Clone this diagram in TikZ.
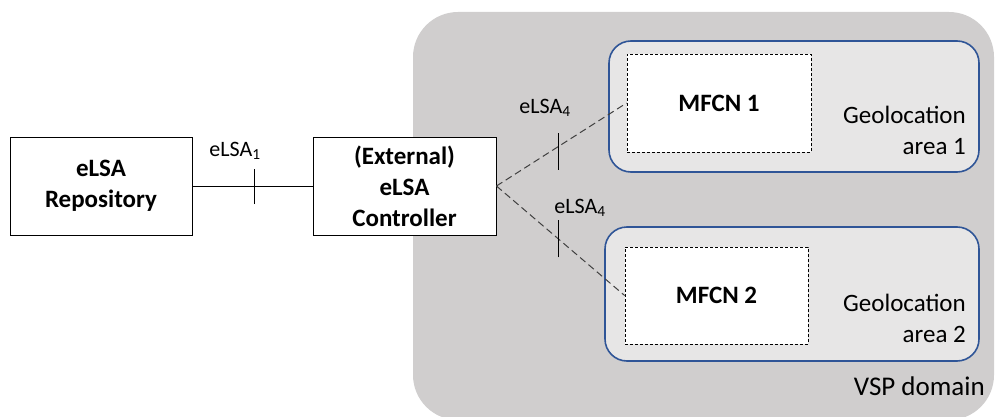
\documentclass[tikz,border=0pt]{standalone}
\usepackage{fontspec}
\setmainfont{Carlito}
\definecolor{vspgrey}{RGB}{208,206,206}
\definecolor{areagrey}{RGB}{231,230,230}
\definecolor{areablue}{RGB}{47,85,151}
\definecolor{linegrey}{RGB}{64,64,64}
\tikzset{
  mainbox/.style={draw=black, line width=0.9pt, fill=white, align=center,
    font=\fontsize{25}{31}\selectfont\bfseries, inner sep=0pt},
  areabox/.style={draw=areablue, line width=1.6pt, fill=areagrey, rounded corners=22pt},
  mfcnbox/.style={draw=black, line width=0.8pt, fill=white, dash pattern=on 3pt off 2pt,
    font=\fontsize{25}{31}\selectfont\bfseries, inner sep=0pt},
  arealabel/.style={align=right, anchor=east, font=\fontsize{25}{31}\selectfont, inner sep=0pt},
  ifacelabel/.style={font=\fontsize{22}{26}\selectfont, inner sep=0pt},
  ifaceline/.style={draw=linegrey, line width=1pt, dash pattern=on 7pt off 4pt},
  tickmark/.style={draw=black, line width=1pt},
}
\begin{document}
\begin{tikzpicture}[x=1pt, y=-1pt]
\useasboundingbox (0,0) rectangle (995,417);
% VSP domain background
\fill[vspgrey, rounded corners=45pt] (413,12) rectangle (994,420);
% boxes
\node[mainbox, minimum width=182pt, minimum height=98pt] (repo) at (101,186) {eLSA\\Repository};
\node[mainbox, minimum width=183pt, minimum height=98pt] (ctrl) at (404.5,186) {(External)\\eLSA\\Controller};
\node[areabox, minimum width=370pt, minimum height=131pt] (area1) at (794,106.5) {};
\node[areabox, minimum width=374pt, minimum height=134pt] (area2) at (792,294) {};
\node[mfcnbox, minimum width=184pt, minimum height=98pt] (mf1) at (719,103) {MFCN 1};
\node[mfcnbox, minimum width=183pt, minimum height=97pt] (mf2) at (716.5,295.5) {MFCN 2};
\node[arealabel] (geo1) at (966,130.5) {Geolocation\\area 1};
\node[arealabel] (geo2) at (966,318) {Geolocation\\area 2};
\node[anchor=east, inner sep=0pt, font=\fontsize{27}{32}\selectfont] (vsp) at (985,386) {VSP domain};
% connectors
\draw[line width=1pt, black] (repo.east) -- coordinate[pos=0.516] (t0) (ctrl.east -| ctrl.west);
\draw[ifaceline] (ctrl.east) -- coordinate[pos=0.473] (t1) (mf1.west);
\draw[ifaceline] (ctrl.east) -- coordinate[pos=0.488] (t2) (mf2.west);
\draw[tickmark] ([yshift=-18pt]t0) -- ([yshift=17pt]t0);
\draw[tickmark] ([yshift=-23pt]t1) -- ([yshift=14pt]t1);
\draw[tickmark] ([yshift=-18pt]t2) -- ([yshift=19pt]t2);
% interface labels
\node[ifacelabel] (l1) at (235,151) {eLSA\textsubscript{1}};
\node[ifacelabel] (l4a) at (545,108) {eLSA\textsubscript{4}};
\node[ifacelabel] (l4b) at (580,208) {eLSA\textsubscript{4}};
\end{tikzpicture}
\end{document}
